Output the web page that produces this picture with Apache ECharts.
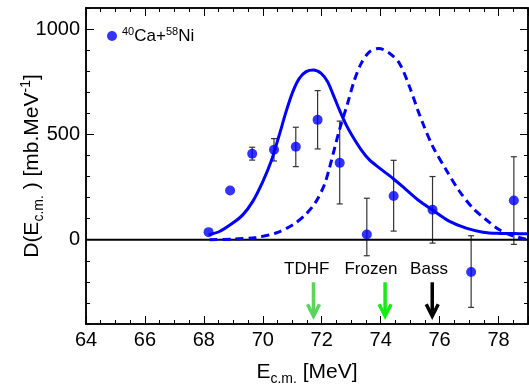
<!DOCTYPE html>
<html><head><meta charset="utf-8">
<script src="https://cdn.jsdelivr.net/npm/echarts@6/dist/echarts.min.js"></script>
<style>html,body{margin:0;padding:0;background:#fff}#c{width:529px;height:385px}</style>
</head><body><div id="c"></div>
<script>
// ---- data ----
const energies = [68.16, 68.89, 69.64, 70.38, 71.12, 71.86, 72.61, 73.53, 74.44, 75.76, 77.07, 78.52];
const dValues  = [36, 234, 408, 427, 441, 569, 365, 25, 208, 142, -153, 186];
const errLow   = [null, null, 378, 374, 347, 431, 170, -76, 41, -16, -321, -22];
const errHigh  = [null, null, 439, 480, 534, 708, 563, 197, 377, 300, 19, 394];

const tdhfE = [68.16, 68.53, 68.98, 69.32, 69.66, 70.0, 70.28, 70.56, 70.79, 71.02, 71.24, 71.47, 71.72, 71.98, 72.2, 72.37, 72.6, 72.83, 73.05, 73.34, 73.62, 73.96, 74.41, 74.87, 75.26, 75.75, 76.34, 76.9, 77.47, 78.03, 78.5, 79.0];
const tdhfD = [24, 39, 79, 118, 182, 276, 371, 498, 608, 703, 766, 798, 806, 790, 750, 695, 616, 545, 490, 427, 379, 340, 292, 237, 190, 142, 87, 55, 36, 30, 29, 28];

const frozenE = [68.19, 68.98, 69.77, 70.45, 71.02, 71.47, 71.81, 72.09, 72.26, 72.6, 72.88, 73.11, 73.34, 73.62, 73.94, 74.3, 74.64, 74.98, 75.26, 75.43, 75.77, 76.22, 76.68, 77.13, 77.58, 78.03, 78.49, 79.0];
const frozenD = [0, 3, 11, 32, 71, 122, 182, 261, 340, 521, 648, 758, 837, 892, 908, 885, 837, 726, 615, 553, 442, 332, 229, 150, 95, 47, 19, 0];

const arrowE      = [71.72, 74.15, 75.75];
const arrowLabels = ['TDHF', 'Frozen', 'Bass'];
const arrowLabelE = [71.49, 73.67, 75.64];

const xMajorTicks = [64, 66, 68, 70, 72, 74, 76, 78];
const yMajorTicks = [0, 500, 1000];

// ---- styles ----
const FONT = '"Liberation Sans", Arial, Helvetica, sans-serif';
const BLUE = '#0000ff';
const ARROW_COLORS = ['#5ad45a', '#11ee11', '#000000'];
const ARROW_TOP = -202, ARROW_TIP = -363, LABEL_Y = -142;

const yMinorVals = [];
for (let v = -400; v <= 1100; v += 100) yMinorVals.push(v);

const scatterData = energies.map((e, i) => [e, dValues[i]]);
const errData = [];
energies.forEach((e, i) => { if (errLow[i] !== null) errData.push([e, errLow[i], errHigh[i]]); });
const tdhfData = tdhfE.map((e, i) => [e, tdhfD[i]]);
const frozenData = frozenE.map((e, i) => [e, frozenD[i]]);
const arrowData = arrowE.map((e, i) => [e, ARROW_TOP, arrowLabelE[i]]);

const axisLineStyle = { color: '#000', width: 1.5 };
function xAx(pos, interval, len, labels, name) {
  return {
    type: 'value', min: 64, max: 79, interval: interval, position: pos,
    axisLine: { show: true, onZero: false, lineStyle: axisLineStyle },
    axisTick: { show: true, inside: true, length: len, lineStyle: { color: '#000', width: 1 } },
    axisLabel: labels ? { show: true, margin: 6, fontSize: 20, fontFamily: FONT, color: '#000',
      formatter: v => (xMajorTicks.indexOf(v) >= 0 ? String(v) : '') } : { show: false },
    splitLine: { show: false },
    name: name || '', nameLocation: 'middle', nameGap: 35, nameMoveOverlap: false,
    nameTextStyle: name ? { fontFamily: FONT, color: '#000', rich: {
      n: { fontSize: 21, fontFamily: FONT, color: '#000', lineHeight: 26 },
      s: { fontSize: 14, fontFamily: FONT, color: '#000', lineHeight: 14, padding: [14, 0, 0, 0] }
    } } : undefined
  };
}
function yAx(pos, custom, len, labels, name) {
  return {
    type: 'value', min: -400, max: 1100, interval: 100, position: pos,
    axisLine: { show: true, onZero: false, lineStyle: axisLineStyle },
    axisTick: { show: true, inside: true, length: len, customValues: custom, lineStyle: { color: '#000', width: 1 } },
    axisLabel: labels ? { show: true, margin: 6, fontSize: 20, fontFamily: FONT, color: '#000', customValues: yMajorTicks,
      formatter: v => String(v) } : { show: false },
    splitLine: { show: false },
    name: name || '', nameLocation: 'middle', nameGap: 41, nameRotate: 90, nameMoveOverlap: false,
    nameTextStyle: name ? { fontFamily: FONT, color: '#000', rich: {
      n: { fontSize: 21, fontFamily: FONT, color: '#000', lineHeight: 26 },
      s: { fontSize: 14, fontFamily: FONT, color: '#000', lineHeight: 14, padding: [14, 0, 0, 0] },
      p: { fontSize: 14, fontFamily: FONT, color: '#000', lineHeight: 14, padding: [0, 0, 12, 0] }
    } } : undefined
  };
}

const chart = echarts.init(document.getElementById('c'), null, { renderer: 'canvas' });
chart.setOption({
  animation: false,
  backgroundColor: '#fff',
  grid: { left: 86, right: 1, top: 8, bottom: 61, containLabel: false, outerBoundsMode: 'none' },
  legend: {
    data: [{ name: 'CaNi', icon: 'circle' }],
    left: 102, top: 21, itemWidth: 10, itemHeight: 10,
    formatter: () => '{p|40}{n|Ca+}{p|58}{n|Ni}',
    textStyle: { fontFamily: FONT, color: '#000', rich: {
      n: { fontSize: 17, fontFamily: FONT, color: '#000', lineHeight: 20 },
      p: { fontSize: 11, fontFamily: FONT, color: '#000', lineHeight: 11, padding: [0, 0, 9, 0] }
    } }
  },
  xAxis: [
    xAx('bottom', 2, 8, true, '{n|E}{s|c.m.}{n| [MeV]}'),
    xAx('bottom', 0.5, 4, false),
    xAx('top', 2, 8, false),
    xAx('top', 0.5, 4, false)
  ],
  yAxis: [
    yAx('left', yMajorTicks, 8, true, '{n|D(E}{s|c.m.}{n| ) [mb.MeV}{p|-1}{n|]}'),
    yAx('left', yMinorVals, 4, false),
    yAx('right', yMajorTicks, 8, false),
    yAx('right', yMinorVals, 4, false)
  ],
  series: [
    {
      name: 'err', type: 'custom', data: errData, z: 1, silent: true,
      encode: { x: 0, y: [1, 2] },
      renderItem: function (params, api) {
        const lo = api.coord([api.value(0), api.value(1)]);
        const hi = api.coord([api.value(0), api.value(2)]);
        const st = { stroke: '#333', lineWidth: 1.2 };
        return { type: 'group', children: [
          { type: 'line', shape: { x1: lo[0], y1: lo[1], x2: hi[0], y2: hi[1] }, style: st },
          { type: 'line', shape: { x1: lo[0] - 3, y1: lo[1], x2: lo[0] + 3, y2: lo[1] }, style: st },
          { type: 'line', shape: { x1: hi[0] - 3, y1: hi[1], x2: hi[0] + 3, y2: hi[1] }, style: st }
        ] };
      }
    },
    {
      name: 'zero', type: 'line', data: [[64, 0], [79, 0]], showSymbol: false, z: 2, silent: true,
      lineStyle: { color: '#000', width: 2 }
    },
    {
      name: 'TDHF', type: 'line', data: tdhfData, showSymbol: false, smooth: 0.3, z: 3,
      lineStyle: { color: BLUE, width: 3 }
    },
    {
      name: 'Frozen', type: 'line', data: frozenData, showSymbol: false, smooth: 0.3, z: 3,
      lineStyle: { color: BLUE, width: 3, type: [8, 5] }
    },
    {
      name: 'CaNi', type: 'scatter', data: scatterData, symbol: 'circle', symbolSize: 10, z: 4,
      itemStyle: { color: BLUE }
    },
    {
      name: 'arrows', type: 'custom', data: arrowData, z: 5, silent: true,
      encode: { x: 0, y: 1 },
      renderItem: function (params, api) {
        const e = api.value(0), le = api.value(2);
        const top = api.coord([e, ARROW_TOP]);
        const tip = api.coord([e, ARROW_TIP]);
        const lab = api.coord([le, LABEL_Y]);
        const col = ARROW_COLORS[params.dataIndex];
        return { type: 'group', children: [
          { type: 'line', shape: { x1: top[0], y1: top[1], x2: tip[0], y2: tip[1] - 2 }, style: { stroke: col, lineWidth: 3.5 } },
          { type: 'polyline', shape: { points: [[tip[0] - 6, tip[1] - 12], [tip[0], tip[1]], [tip[0] + 6, tip[1] - 12]] },
            style: { stroke: col, lineWidth: 3.5, fill: null, lineJoin: 'miter' } },
          { type: 'text', style: { text: arrowLabels[params.dataIndex], x: lab[0], y: lab[1], align: 'center', verticalAlign: 'middle',
            fontSize: 17, fontFamily: FONT, fill: '#000' } }
        ] };
      }
    }
  ]
});
</script>
</body></html>
